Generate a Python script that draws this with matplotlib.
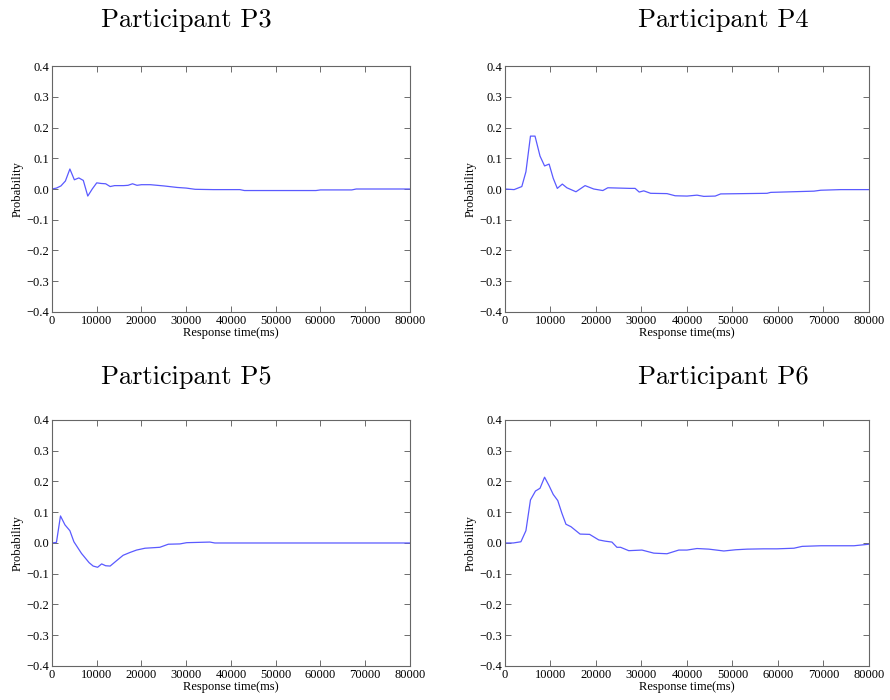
import matplotlib.pyplot as plt

# response time (ms) and probability for each participant
p3_x = [0, 1000, 2000, 3000, 4000, 5000, 6000, 7000, 8000, 9000, 10000, 11000, 12000,
        13000, 14000, 16000, 17000, 18000, 19000, 20000, 22000, 25000, 28000, 30000,
        32000, 36000, 42000, 43000, 59000, 60000, 67000, 68000, 80000]
p3_y = [0.0, 0.003, 0.01, 0.026, 0.065, 0.03, 0.036, 0.028, -0.023, 0.0, 0.02, 0.018,
        0.017, 0.008, 0.011, 0.011, 0.012, 0.017, 0.012, 0.014, 0.014, 0.01, 0.005,
        0.003, -0.001, -0.002, -0.002, -0.005, -0.005, -0.003, -0.003, 0.0, 0.0]

p4_x = [0, 2000, 3700, 4600, 5600, 6600, 7700, 8700, 9700, 10600, 11500, 12600, 13600,
        15600, 17600, 19500, 21500, 22600, 27500, 28600, 29500, 30500, 32000, 35600,
        37400, 40000, 42200, 43700, 46200, 47400, 57600, 58400, 67900, 69400, 73800, 80000]
p4_y = [0.0, -0.002, 0.008, 0.056, 0.172, 0.172, 0.107, 0.075, 0.081, 0.035, 0.002,
        0.016, 0.004, -0.009, 0.011, 0.0, -0.005, 0.004, 0.002, 0.002, -0.01, -0.006,
        -0.014, -0.015, -0.022, -0.023, -0.02, -0.024, -0.023, -0.016, -0.014, -0.011,
        -0.007, -0.004, -0.002, -0.002]

p5_x = [0, 1000, 1900, 2900, 4000, 4900, 6600, 8300, 9200, 10200, 11100, 12000, 13000,
        14400, 15900, 17400, 18900, 20800, 24100, 26000, 28600, 30100, 35300, 36400, 80000]
p5_y = [0.0, 0.002, 0.088, 0.059, 0.04, 0.004, -0.034, -0.064, -0.075, -0.079, -0.068,
        -0.074, -0.075, -0.058, -0.04, -0.031, -0.023, -0.017, -0.014, -0.004, -0.003,
        0.001, 0.003, 0.0, 0.0]

p6_x = [0, 1800, 3500, 4600, 5600, 6700, 7700, 8700, 9700, 10600, 11600, 12500, 13400,
        14500, 16500, 18600, 20600, 22000, 23500, 24600, 25400, 27200, 30100, 32700,
        35600, 38200, 40000, 42200, 44800, 48100, 50700, 53200, 56900, 59800, 63500,
        65300, 69400, 76700, 80000]
p6_y = [0.0, 0.0, 0.004, 0.04, 0.14, 0.169, 0.178, 0.214, 0.186, 0.158, 0.138, 0.097,
        0.061, 0.053, 0.029, 0.028, 0.01, 0.006, 0.003, -0.014, -0.014, -0.025, -0.023,
        -0.033, -0.035, -0.023, -0.023, -0.018, -0.02, -0.026, -0.022, -0.02, -0.019,
        -0.019, -0.017, -0.011, -0.009, -0.009, -0.004]

titles = ['Participant P3', 'Participant P4', 'Participant P5', 'Participant P6']
xs = [p3_x, p4_x, p5_x, p6_x]
ys = [p3_y, p4_y, p5_y, p6_y]

xticks = [0, 10000, 20000, 30000, 40000, 50000, 60000, 70000, 80000]
yticks = [-0.4, -0.3, -0.2, -0.1, 0.0, 0.1, 0.2, 0.3, 0.4]

fig = plt.figure(figsize=(8.9, 7), dpi=100)

# axes boxes in figure fractions [left, bottom, width, height]
boxes = [[0.0584, 0.5543, 0.4022, 0.3514],
         [0.5674, 0.5543, 0.4090, 0.3514],
         [0.0584, 0.0486, 0.4022, 0.3514],
         [0.5674, 0.0486, 0.4090, 0.3514]]
# title centres (x, y) in figure fractions
title_pos = [(0.209, 0.971), (0.813, 0.971), (0.209, 0.461), (0.813, 0.461)]

for i in range(4):
    ax = fig.add_axes(boxes[i])
    ax.plot(xs[i], ys[i], color='#5a5aff', lw=0.9)
    ax.set_xlim(0, 80000)
    ax.set_ylim(-0.4, 0.4)
    ax.set_xticks(xticks)
    ax.set_yticks(yticks)
    ax.set_xticklabels([str(t) for t in xticks], family='Liberation Serif', fontsize=9)
    ax.set_yticklabels(['\u2212%.1f' % -t if t < 0 else '%.1f' % t for t in yticks],
                       family='Liberation Serif', fontsize=9)
    ax.tick_params(direction='in', top=True, right=True, length=4, width=0.6,
                   color='#555555', pad=2)
    for s in ax.spines.values():
        s.set_color('#666666')
        s.set_linewidth(0.8)
    ax.set_xlabel('Response time(ms)', family='Liberation Serif', fontsize=9, labelpad=0)
    ax.set_ylabel('Probability', family='Liberation Serif', fontsize=9, labelpad=2)
    fig.text(title_pos[i][0], title_pos[i][1], titles[i], family='cmr10', fontsize=19,
             ha='center', va='center')

fig.savefig('out.png', dpi=100)
